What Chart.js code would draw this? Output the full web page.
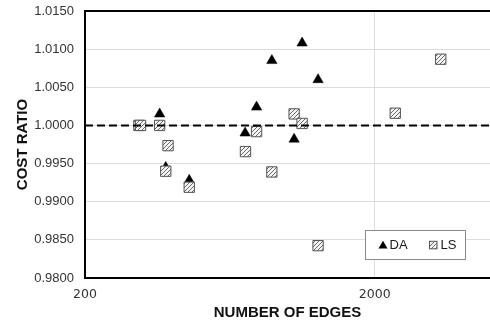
<!DOCTYPE html>
<html><head><meta charset="utf-8">
<script src="https://cdn.jsdelivr.net/npm/chart.js@4.4.1/dist/chart.umd.min.js"></script>
<style>html,body{margin:0;padding:0;background:#fff}#wrap{width:490px;height:326px;position:relative}</style>
</head><body><div id="wrap"><canvas id="c"></canvas></div>
<script>
// ---- data ----
const seriesNames = ['DA', 'LS'];
const edgesDA = [362, 380, 458, 714, 782, 883, 1054, 1123, 1275];
const ratioDA = [1.0015, 0.9945, 0.9928, 0.9990, 1.0024, 1.0085, 0.9982, 1.0108, 1.0060];
const edgesLS = [307, 311, 362, 387, 380, 458, 716, 782, 883, 1054, 1123, 1275, 2355, 3380];
const ratioLS = [1.0000, 1.0000, 1.0000, 0.99735, 0.9940, 0.9919, 0.99657, 0.99919, 0.9939, 1.00151, 1.00026, 0.98424, 1.0016, 1.00868];
const xTickValues = [200, 2000];
const yTickValues = [0.9800, 0.9850, 0.9900, 0.9950, 1.0000, 1.0050, 1.0100, 1.0150];
const xRange = [200, 5000];
const referenceRatio = 1.0;
const xTitle = 'NUMBER OF EDGES';
const yTitle = 'COST RATIO';

const canvas = document.getElementById('c');
const ctx0 = canvas.getContext('2d');
function makeHatch() {
  const c = document.createElement('canvas'); c.width = 4; c.height = 4;
  const g = c.getContext('2d');
  g.fillStyle = '#f4f4f4'; g.fillRect(0, 0, 4, 4);
  g.strokeStyle = '#6a6a6a'; g.lineWidth = 1;
  g.beginPath();
  g.moveTo(0, 4); g.lineTo(4, 0);
  g.moveTo(-1, 1); g.lineTo(1, -1);
  g.moveTo(3, 5); g.lineTo(5, 3);
  g.stroke();
  return ctx0.createPattern(c, 'repeat');
}
const hatch = makeHatch();

const toPts = (xs, ys) => xs.map((x, i) => ({x: x, y: ys[i]}));

const topBorder = {
  id: 'topBorder',
  afterDatasetsDraw(chart) {
    const {ctx, chartArea: a} = chart;
    ctx.save();
    ctx.strokeStyle = '#000'; ctx.lineWidth = 2;
    ctx.beginPath(); ctx.moveTo(a.left - 1, a.top); ctx.lineTo(a.right, a.top); ctx.stroke();
    ctx.restore();
  }
};

const legendBox = {
  id: 'legendBox',
  afterDraw(chart) {
    const {ctx, chartArea: a} = chart;
    const x0 = a.left + 280.5, y0 = a.top + 219.5, w = 100, h = 29;
    const cy = y0 + h / 2;
    ctx.save();
    ctx.fillStyle = '#fff';
    ctx.fillRect(x0, y0, w, h);
    ctx.strokeStyle = '#8a8a8a'; ctx.lineWidth = 1;
    ctx.strokeRect(x0, y0, w, h);
    // DA marker
    const tx = x0 + 17.5;
    ctx.fillStyle = '#000';
    ctx.beginPath();
    ctx.moveTo(tx, cy - 4.2); ctx.lineTo(tx + 4.5, cy + 3.4); ctx.lineTo(tx - 4.5, cy + 3.4); ctx.closePath();
    ctx.fill();
    ctx.font = '13px "Liberation Sans", Arial, sans-serif';
    ctx.textBaseline = 'middle'; ctx.textAlign = 'left';
    ctx.fillStyle = '#1a1a1a';
    ctx.fillText(chart.data.datasets[0].label, x0 + 24, cy + 0.5);
    // LS marker
    const sx = x0 + 64;
    ctx.fillStyle = hatch;
    ctx.fillRect(sx, cy - 3.7, 7.5, 7.5);
    ctx.strokeStyle = '#555'; ctx.strokeRect(sx, cy - 3.7, 7.5, 7.5);
    ctx.fillStyle = '#1a1a1a';
    ctx.fillText(chart.data.datasets[1].label, sx + 11, cy + 0.5);
    ctx.restore();
  }
};

new Chart(canvas, {
  type: 'scatter',
  data: {
    datasets: [
      {
        label: seriesNames[0], data: toPts(edgesDA, ratioDA), order: 3,
        pointStyle: 'triangle', pointRadius: 6, pointHoverRadius: 6,
        backgroundColor: '#000', borderColor: '#000', borderWidth: 0.5
      },
      {
        label: seriesNames[1], data: toPts(edgesLS, ratioLS), order: 2,
        pointStyle: 'rect', pointRadius: 7.3, pointHoverRadius: 7.3,
        backgroundColor: hatch, borderColor: '#555', borderWidth: 1
      },
      {
        label: 'ref', type: 'line', order: 1,
        data: [{x: xRange[0], y: referenceRatio}, {x: xRange[1], y: referenceRatio}],
        showLine: true, pointRadius: 0, borderColor: '#000', borderWidth: 2,
        borderDash: [8, 4], fill: false
      }
    ]
  },
  options: {
    responsive: true, maintainAspectRatio: false, animation: false,
    layout: {autoPadding: false, padding: {top: 11, right: 0, left: 0, bottom: 0}},
    plugins: {legend: {display: false}, tooltip: {enabled: false}},
    scales: {
      x: {
        type: 'logarithmic', min: xRange[0], max: xRange[1],
        afterBuildTicks: s => { s.ticks = xTickValues.map(v => ({value: v})); },
        afterFit: s => { s.height = 48; s.paddingLeft = 0; s.paddingRight = 0; s.paddingTop = 0; s.paddingBottom = 0; },
        ticks: {
          callback: v => String(v), padding: 9, maxRotation: 0, autoSkip: false,
          color: '#333', font: {family: '"DejaVu Sans", sans-serif', size: 12.5}
        },
        grid: {color: '#dcdcdc', lineWidth: 1, drawTicks: false},
        border: {display: true, color: '#000', width: 2},
        title: {
          display: true, text: xTitle, color: '#111', padding: {top: 4, bottom: 4},
          font: {family: '"Liberation Sans", Arial, sans-serif', size: 15, weight: 'bold'}
        }
      },
      y: {
        type: 'linear', min: yTickValues[0], max: yTickValues[yTickValues.length - 1],
        afterBuildTicks: s => { s.ticks = yTickValues.map(v => ({value: v})); },
        afterFit: s => { s.width = 85; s.paddingTop = 0; s.paddingBottom = 0; s.paddingLeft = 0; s.paddingRight = 0; },
        ticks: {
          callback: v => Number(v).toFixed(4), padding: 11,
          color: '#333', font: {family: '"Liberation Sans", Arial, sans-serif', size: 13}
        },
        grid: {color: '#dcdcdc', lineWidth: 1, drawTicks: false},
        border: {display: true, color: '#000', width: 2},
        title: {
          display: true, text: yTitle, color: '#111', padding: {top: 14, bottom: 0},
          font: {family: '"Liberation Sans", Arial, sans-serif', size: 15, weight: 'bold'}
        }
      }
    }
  },
  plugins: [topBorder, legendBox]
});
</script>
</body></html>
